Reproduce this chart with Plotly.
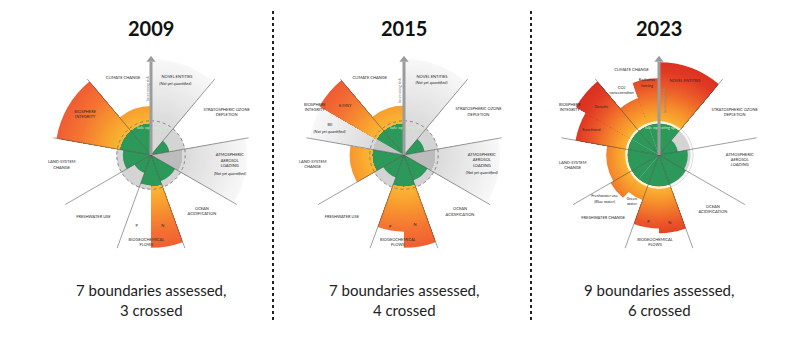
import plotly.graph_objects as go

# ---------------- data ----------------
YEARS = ["2009", "2015", "2023"]
SUMMARY_TOP = ["7 boundaries assessed,", "7 boundaries assessed,", "9 boundaries assessed,"]
SUMMARY_BOTTOM = ["3 crossed", "4 crossed", "6 crossed"]

# control variables (value relative to boundary = 1; None = not yet quantified)
CONTROLS_2009 = ["Novel entities", "Ozone", "Aerosols", "Ocean", "N", "P",
                 "Freshwater", "Land", "Biosphere", "Climate"]
VALUES_2009 = [None, 0.58, None, 0.87, 2.90, 0.95, 0.60, 0.88, 3.00, 1.53]

CONTROLS_2015 = ["Novel entities", "Ozone", "Aerosols", "Ocean", "N", "P",
                 "Freshwater", "Land", "BII", "E/MSY", "Climate"]
VALUES_2015 = [None, 0.65, None, 0.85, 2.90, 2.40, 0.75, 1.70, None, 3.05, 1.55]

CONTROLS_2023 = ["Novel entities", "Ozone", "Aerosols", "Ocean", "N", "P",
                 "Green water", "Blue water", "Land", "Functional", "Genetic",
                 "CO2", "Radiative forcing"]
VALUES_2023 = [2.90, 0.60, 0.90, 0.97, 2.45, 2.30, 1.50, 1.75, 1.65, 2.65, 3.00, 1.90, 2.40]

# ---------------- layout / style ----------------
SPANS = {
    "Novel entities": (0, 40), "Ozone": (40, 80), "Aerosols": (80, 120),
    "Ocean": (120, 160), "N": (160, 180), "P": (180, 200),
    "Freshwater": (200, 240), "Green water": (200, 220), "Blue water": (220, 240),
    "Land": (240, 280), "Biosphere": (280, 320), "BII": (280, 300), "E/MSY": (300, 320),
    "Functional": (280, 300), "Genetic": (300, 320),
    "Climate": (320, 360), "CO2": (320, 340), "Radiative forcing": (340, 360),
}
NQ_INNER = {"Aerosols": "#bcbcbc", "BII": "#c4c4c4"}
NQ_EXTENT = 3.0
GREEN = "#2c985a"
DISK_COLOR = "#d4d4d4"
DISK_R = 1.07
STEP = 0.04
R_MAX = 3.44
CENTERS = [151, 404, 659]
CY = 155
HALF = 110
W, H = 786, 352

GRADS = [
    [(1.0, "#fbb833"), (1.6, "#f89b2f"), (2.3, "#f47532"), (3.2, "#ef5534")],
    [(1.0, "#fbb833"), (1.6, "#f89b2f"), (2.3, "#f47532"), (3.2, "#ef5534")],
    [(1.0, "#fbb833"), (1.5, "#f68f2c"), (2.1, "#ec5a2a"), (2.6, "#e03a24"), (3.2, "#d62b20")],
]
NQ_FADE = [(1.0, "#dadada"), (2.0, "#e9e9e9"), (3.0, "#f8f8f8")]

LABELS = [
    [("CLIMATE CHANGE", 2.56, 340), ("NOVEL ENTITIES", 2.57, 18.4),
     ("<i>(Not yet quantified)</i>", 2.34, 19),
     ("STRATOSPHERIC OZONE<br>DEPLETION", 2.72, 60.5),
     ("ATMOSPHERIC<br>AEROSOL<br>LOADING", 2.47, 94),
     ("<i>(Not yet quantified)</i>", 2.54, 103.5),
     ("OCEAN<br>ACIDIFICATION", 2.38, 138),
     ("BIOGEOCHEMICAL<br>FLOWS", 2.75, 183), ("P", 2.25, 191.4), ("N", 2.24, 170.6),
     ("FRESHWATER USE", 2.64, 223), ("LAND-SYSTEM<br>CHANGE", 2.81, 263.6),
     ("BIOSPHERE<br>INTEGRITY", 2.42, 301.7)],
    [("CLIMATE CHANGE", 2.63, 336), ("NOVEL ENTITIES", 2.6, 19.7),
     ("<i>(Not yet quantified)</i>", 2.4, 21),
     ("STRATOSPHERIC OZONE<br>DEPLETION", 2.69, 60),
     ("ATMOSPHERIC<br>AEROSOL<br>LOADING", 2.44, 94),
     ("<i>(Not yet quantified)</i>", 2.5, 103),
     ("OCEAN<br>ACIDIFICATION", 2.5, 135.5),
     ("BIOGEOCHEMICAL<br>FLOWS", 2.75, 184), ("P", 2.28, 191), ("N", 2.22, 171),
     ("FRESHWATER USE", 2.75, 225), ("LAND-SYSTEM<br>CHANGE", 2.87, 264),
     ("BIOSPHERE<br>INTEGRITY", 3.16, 298), ("E/MSY", 2.4, 310),
     ("BII", 2.5, 292), ("<i>(Not yet quantified)</i>", 2.44, 287.5)],
    [("CLIMATE CHANGE", 2.78, 342), ("NOVEL ENTITIES", 2.44, 19.4),
     ("CO<sub>2</sub><br>concentration", 2.34, 330), ("Radiative<br>forcing", 2.28, 350.5),
     ("Genetic", 2.34, 309.6), ("Functional", 2.25, 290),
     ("BIOSPHERE<br>INTEGRITY", 3.16, 298),
     ("STRATOSPHERIC OZONE<br>DEPLETION", 2.72, 60.5),
     ("ATMOSPHERIC<br>AEROSOL<br>LOADING", 2.53, 93.5),
     ("OCEAN<br>ACIDIFICATION", 2.4, 135.5),
     ("BIOGEOCHEMICAL<br>FLOWS", 2.75, 182.6),
     ("FRESHWATER CHANGE", 2.63, 221.6), ("LAND-SYSTEM<br>CHANGE", 2.72, 263),
     ("Freshwater use<br>(Blue water)", 2.19, 231), ("Green<br>water", 1.69, 210),
     ("P", 2.13, 189), ("N", 2.16, 171)],
]
RISK_POS = [(147, 88), (400, 90), (664, 100)]


def hex_to_rgb(h):
    h = h.lstrip("#")
    return tuple(int(h[i:i + 2], 16) for i in (0, 2, 4))


def interp(stops, r):
    if r <= stops[0][0]:
        return stops[0][1]
    for (r0, c0), (r1, c1) in zip(stops[:-1], stops[1:]):
        if r <= r1:
            t = (r - r0) / (r1 - r0)
            a, b = hex_to_rgb(c0), hex_to_rgb(c1)
            return "rgb(%d,%d,%d)" % tuple(round(a[k] + (b[k] - a[k]) * t) for k in range(3))
    return stops[-1][1]


fig = go.Figure()
panels = [(CONTROLS_2009, VALUES_2009), (CONTROLS_2015, VALUES_2015), (CONTROLS_2023, VALUES_2023)]

for i, (controls, values) in enumerate(panels):
    sub = "polar" if i == 0 else "polar%d" % (i + 1)

    # earth disc
    fig.add_trace(go.Barpolar(
        theta=[20 + 40 * k for k in range(9)], width=[40] * 9, r=[DISK_R] * 9, base=0,
        marker=dict(color=DISK_COLOR, line=dict(width=0.5, color=DISK_COLOR)),
        subplot=sub, hoverinfo="skip", showlegend=False))
    # dashed boundary ring
    if i < 2:
        fig.add_trace(go.Scatterpolar(
            r=[DISK_R] * 361, theta=list(range(361)), mode="lines",
            line=dict(color="#7a7a7a", width=1, dash="dot"),
            subplot=sub, hoverinfo="skip", showlegend=False))

    th, wd, bs, rr, col = [], [], [], [], []

    def add(a0, a1, b, t, c):
        th.append((a0 + a1) / 2)
        wd.append(a1 - a0)
        bs.append(b)
        rr.append(t - b)
        col.append(c)

    def gradient(a0, a1, top, stops):
        # overlapping bars drawn from the outermost inwards -> smooth, seam-free gradient
        n = max(1, int(round((top - 1.0) / STEP)))
        for k in range(n, 0, -1):
            r2 = 1.0 + (top - 1.0) * k / n
            rm = 1.0 + (top - 1.0) * (k - 0.5) / n
            add(a0, a1, 1.0, r2, interp(stops, rm))

    for name, v in zip(controls, values):
        a0, a1 = SPANS[name]
        if v is None:
            add(a0, a1, 0, 1.0, NQ_INNER.get(name, "#d8d8d8"))
            gradient(a0, a1, NQ_EXTENT, NQ_FADE)
        else:
            add(a0, a1, 0, min(v, 1.0), GREEN)
            if v > 1:
                gradient(a0, a1, v, GRADS[i])

    fig.add_trace(go.Barpolar(
        theta=th, width=wd, base=bs, r=rr,
        marker=dict(color=col, line=dict(width=0)),
        subplot=sub, hoverinfo="skip", showlegend=False))

    if i == 2:
        fig.add_trace(go.Scatterpolar(
            r=[1.02] * 361, theta=list(range(361)), mode="lines",
            line=dict(color="rgba(255,255,255,0.85)", width=2.2),
            subplot=sub, hoverinfo="skip", showlegend=False))

    # radial divider lines
    lr, lt = [], []
    for a in range(40, 360, 40):
        lr += [0, 3.1, None]
        lt += [a, a, None]
    fig.add_trace(go.Scatterpolar(
        r=lr, theta=lt, mode="lines", line=dict(color="rgba(70,70,70,0.75)", width=0.7),
        subplot=sub, hoverinfo="skip", showlegend=False))

    # safe operating space text
    fig.add_trace(go.Scatterpolar(
        r=[0.86], theta=[8], mode="text", text=["Safe operating space"],
        textfont=dict(size=4, color="#c9f2c0", family="Lato"),
        subplot=sub, hoverinfo="skip", showlegend=False))

    # increasing-risk arrow
    fig.add_trace(go.Scatterpolar(
        r=[0, 2.92], theta=[0, 0], mode="lines", line=dict(color="#9c9c9c", width=3),
        subplot=sub, hoverinfo="skip", showlegend=False))
    fig.add_trace(go.Scatterpolar(
        r=[2.98], theta=[0], mode="markers",
        marker=dict(symbol="triangle-up", size=8, color="#9c9c9c"),
        subplot=sub, hoverinfo="skip", showlegend=False))

    # labels
    lab = LABELS[i]
    fig.add_trace(go.Scatterpolar(
        r=[x[1] for x in lab], theta=[x[2] for x in lab], text=[x[0] for x in lab],
        mode="text", textfont=dict(size=4, color="#2a2a2a", family="Lato"),
        subplot=sub, hoverinfo="skip", showlegend=False))

polar_common = dict(
    bgcolor="rgba(0,0,0,0)", barmode="overlay", hole=0,
    radialaxis=dict(visible=False, range=[0, R_MAX], showgrid=False, showline=False),
    angularaxis=dict(visible=False, direction="clockwise", rotation=90,
                     showgrid=False, showline=False, showticklabels=False, ticks=""),
)
layout_polars = {}
for i, cx in enumerate(CENTERS):
    key = "polar" if i == 0 else "polar%d" % (i + 1)
    d = dict(polar_common)
    d["domain"] = dict(x=[(cx - HALF) / W, (cx + HALF) / W],
                       y=[(H - CY - HALF) / H, (H - CY + HALF) / H])
    layout_polars[key] = d

annotations = []
for i, cx in enumerate(CENTERS):
    annotations.append(dict(x=cx / W, y=1 - 28 / H, xref="paper", yref="paper",
                            text="<b>%s</b>" % YEARS[i], showarrow=False,
                            font=dict(size=20, color="#111", family="Lato"),
                            xanchor="center", yanchor="middle"))
    annotations.append(dict(x=cx / W, y=1 - 300 / H, xref="paper", yref="paper",
                            text=SUMMARY_TOP[i] + "<br>" + SUMMARY_BOTTOM[i], showarrow=False,
                            font=dict(size=15, color="#222", family="Lato"),
                            xanchor="center", yanchor="middle"))
    rx, ry = RISK_POS[i]
    annotations.append(dict(x=rx / W, y=1 - ry / H, xref="paper", yref="paper",
                            text="Increasing risk", showarrow=False, textangle=-90,
                            font=dict(size=4, color="#8a8a8a", family="Lato"),
                            xanchor="center", yanchor="middle"))

shapes = []
for xd in (273, 531):
    shapes.append(dict(type="line", xref="paper", yref="paper",
                       x0=xd / W, x1=xd / W, y0=1 - 11 / H, y1=1 - 323 / H,
                       line=dict(color="#222", width=2, dash="dot")))

fig.update_layout(
    width=W, height=H, margin=dict(l=0, r=0, t=0, b=0),
    paper_bgcolor="white", plot_bgcolor="white", showlegend=False,
    annotations=annotations, shapes=shapes, **layout_polars,
)

fig.write_html("out.html")
